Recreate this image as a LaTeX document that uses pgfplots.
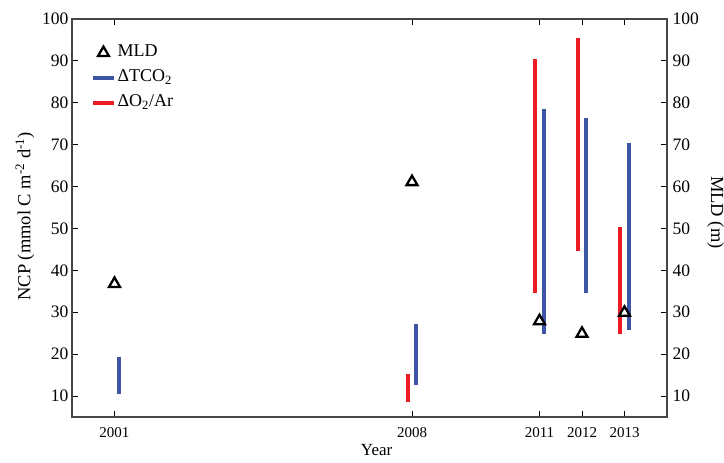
\documentclass[border=0pt]{standalone}
\usepackage{fontspec}
\setmainfont{Liberation Serif}
\usepackage{pgfplots}
\pgfplotsset{compat=1.18}
\definecolor{tcoblue}{RGB}{62,84,165}
\definecolor{oared}{RGB}{237,28,36}
\definecolor{axgray}{RGB}{70,70,70}
\pgfplotsset{
  legline/.style={legend image code/.code={\draw[##1] (0pt,0pt) -- (21pt,0pt);}},
  legmark/.style={legend image code/.code={\draw[##1] plot coordinates {(10.5pt,0pt)};}},
}
\begin{document}
\begin{tikzpicture}
\path[use as bounding box] (-72pt,-46pt) rectangle (652pt,417pt);
\begin{axis}[
  name=main,
  scale only axis, width=595pt, height=398pt,
  xmin=2000, xmax=2014, ymin=5, ymax=100,
  xtick={2001,2008,2011,2012,2013},
  ytick={10,20,...,100},
  ytick pos=left,
  tick align=inside,
  major tick length=6pt,
  axis line style={axgray, line width=1.3pt},
  tick style={black, line width=1pt},
  /pgf/number format/1000 sep={},
  /pgf/number format/assume math mode=true,
  xticklabel style={font=\fontsize{15}{18}\selectfont, yshift=-7pt},
  yticklabel style={font=\fontsize{17.5}{20}\selectfont},
  xlabel={Year},
  xlabel style={font=\fontsize{17}{20}\selectfont, at={(axis description cs:0.512,-0.083)}, anchor=center},
  ylabel={NCP (mmol C m\textsuperscript{-2} d\textsuperscript{-1})},
  ylabel style={font=\fontsize{18.5}{20}\selectfont, at={(axis description cs:-0.079,0.504)}, anchor=center, rotate=0},
  unbounded coords=jump,
  legend style={at={(axis description cs:0.027,0.948)}, anchor=north west, draw=none, fill=none,
    font=\fontsize{18}{20}\selectfont, row sep=3pt,
    nodes={text height=13pt, text depth=5pt, inner sep=2pt}},
  legend cell align=left,
]
\addplot[tcoblue, line width=3.6pt, line cap=butt, forget plot] coordinates {
 (2001.1,10.6) (2001.1,19.3) (2001.1,nan)
 (2008.1,12.6) (2008.1,27.3) (2008.1,nan)
 (2011.1,24.7) (2011.1,78.4) (2011.1,nan)
 (2012.1,34.6) (2012.1,76.4) (2012.1,nan)
 (2013.1,25.7) (2013.1,70.3)
};
\addplot[oared, line width=3.6pt, line cap=butt, forget plot] coordinates {
 (2007.9,8.6) (2007.9,15.3) (2007.9,nan)
 (2010.9,34.6) (2010.9,90.4) (2010.9,nan)
 (2011.9,44.6) (2011.9,95.4) (2011.9,nan)
 (2012.9,24.7) (2012.9,50.4)
};
\addplot[only marks, mark=triangle*, mark size=6.3pt,
  mark options={draw=black, fill=white, line width=2.3pt}, legmark]
  coordinates {(2001,36.8) (2008,61.1) (2011,27.9) (2012,24.9) (2013,29.9)};
\addlegendentry{MLD}
\addlegendimage{tcoblue, line width=3.4pt, legline}
\addlegendentry{ΔTCO\textsubscript{2}}
\addlegendimage{oared, line width=3.4pt, legline}
\addlegendentry{ΔO\textsubscript{2}/Ar}
\end{axis}
\begin{axis}[
  scale only axis, width=595pt, height=398pt,
  xmin=2000, xmax=2014, ymin=5, ymax=100,
  xtick=\empty,
  ytick={10,20,...,100},
  ytick pos=right,
  tick align=inside,
  major tick length=6pt,
  axis line style={axgray, line width=1.3pt},
  tick style={black, line width=1pt},
  /pgf/number format/assume math mode=true,
  yticklabel style={font=\fontsize{17.5}{20}\selectfont, xshift=2pt},
  ylabel={MLD (m)},
  ylabel style={font=\fontsize{18.5}{20}\selectfont, at={(axis description cs:1.0815,0.514)}, anchor=center, rotate=180},
]
\end{axis}
\end{tikzpicture}
\end{document}
